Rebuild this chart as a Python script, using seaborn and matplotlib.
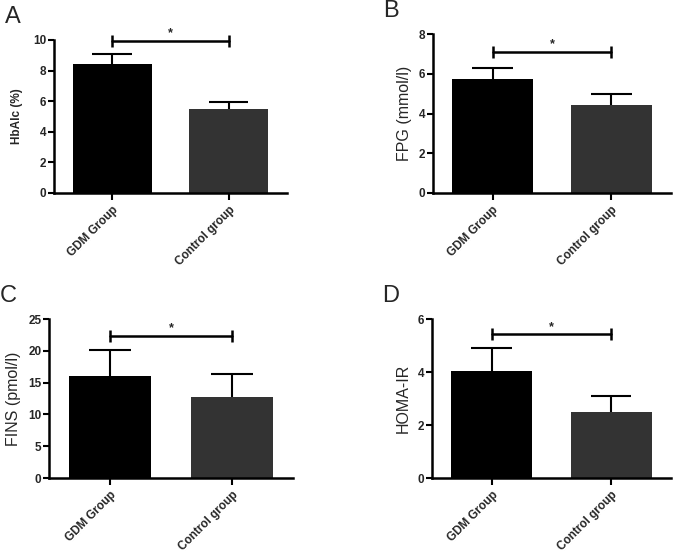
import matplotlib
matplotlib.use('Agg')
import matplotlib.pyplot as plt
import seaborn as sns
import pandas as pd

sns.set_style('ticks')
plt.rcParams['font.family'] = ['Liberation Sans', 'DejaVu Sans']

# Data (mean, upper error bar length)
groups = ['GDM Group', 'Control group']
bar_colors = ['#000000', '#333333']

hba1c_mean = [8.45, 5.48]
hba1c_sd = [0.63, 0.47]
fpg_mean = [5.72, 4.43]
fpg_sd = [0.58, 0.54]
fins_mean = [16.0, 12.7]
fins_sd = [4.1, 3.7]
homa_mean = [4.05, 2.48]
homa_sd = [0.87, 0.62]

panels = [
    # letter, ylabel, means, sds, ymax, ystep, sig height, small bold label
    ('A', 'HbAlc (%)', hba1c_mean, hba1c_sd, 10, 2, 9.95, True),
    ('B', 'FPG (mmol/l)', fpg_mean, fpg_sd, 8, 2, 7.1, False),
    ('C', 'FINS (pmol/l)', fins_mean, fins_sd, 25, 5, 22.3, False),
    ('D', 'HOMA-IR', homa_mean, homa_sd, 6, 2, 5.42, False),
]

# axes positions in figure fraction [left, bottom, width, height]
positions = [
    [0.0798, 0.651, 0.344, 0.2767],
    [0.6396, 0.651, 0.3515, 0.2875],
    [0.0724, 0.1356, 0.3604, 0.2875],
    [0.638, 0.1356, 0.353, 0.2875],
]

fig = plt.figure(figsize=(6.77, 5.53), dpi=100)

for (letter, ylabel, means, sds, ymax, ystep, sig_y, small), pos in zip(panels, positions):
    ax = fig.add_axes(pos)
    df = pd.DataFrame({'group': groups, 'value': means})
    sns.barplot(data=df, x='group', y='value', hue='group', palette=bar_colors,
                width=0.68, errorbar=None, legend=False, ax=ax, linewidth=0)
    # upper error bars only (stem + top cap)
    tops = [m + s for m, s in zip(means, sds)]
    ax.vlines([0, 1], means, tops, color='black', lw=1.5, zorder=3)
    ax.hlines(tops, [-0.17, 0.83], [0.17, 1.17], color='black', lw=1.5, zorder=3)
    # significance bracket
    ax.plot([0, 1], [sig_y, sig_y], color='black', lw=1.8, marker='|',
            markersize=9, markeredgewidth=1.8, clip_on=False, zorder=4)
    ax.text(0.5, sig_y + ymax * 0.01, '*', ha='center', va='bottom',
            fontsize=9, fontweight='bold', clip_on=False)

    ax.set_xlim(-0.5, 1.5)
    ax.set_ylim(0, ymax)
    ax.set_yticks(range(0, ymax + 1, ystep))
    ax.set_xlabel('')
    if small:
        ax.set_ylabel(ylabel, fontsize=8.5, fontweight='bold', labelpad=7)
    else:
        ax.set_ylabel(ylabel, fontsize=11.5, labelpad=5)
    ax.set_xticks([0, 1])
    ax.set_xticklabels(groups, rotation=45, ha='right', rotation_mode='anchor',
                       fontsize=8.5, fontweight='bold')
    for lab in ax.get_yticklabels():
        lab.set_fontweight('bold')
        lab.set_fontsize(8.5)
    ax.tick_params(axis='both', width=1.5, length=4, pad=1.5, color='black')
    ax.tick_params(axis='x', length=5, pad=3)
    for side in ['top', 'right']:
        ax.spines[side].set_visible(False)
    for side in ['left', 'bottom']:
        ax.spines[side].set_linewidth(1.8)
        ax.spines[side].set_color('black')

    fig.text(pos[0] - 0.073, pos[1] + pos[3] + 0.022, letter, fontsize=17,
             ha='left', va='bottom')

fig.savefig('out.png', dpi=100)
